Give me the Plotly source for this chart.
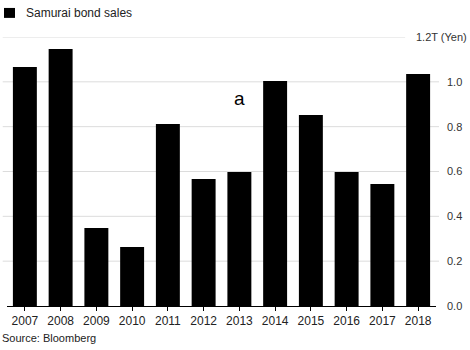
import plotly.graph_objects as go

years = ["2007", "2008", "2009", "2010", "2011", "2012", "2013", "2014", "2015", "2016", "2017", "2018"]
sales = [1.066, 1.146, 0.348, 0.263, 0.812, 0.566, 0.598, 1.004, 0.852, 0.598, 0.544, 1.035]
ytick_vals = [0.0, 0.2, 0.4, 0.6, 0.8, 1.0]
ytick_text = ["0.0", "0.2", "0.4", "0.6", "0.8", "1.0"]

FONT = "Liberation Sans, Arial, sans-serif"

fig = go.Figure()
fig.add_trace(go.Bar(x=years, y=sales, marker=dict(color="#000000", line=dict(width=0)),
                     name="Samurai bond sales", showlegend=False))

shapes = []
for v in ytick_vals[1:]:
    shapes.append(dict(type="line", xref="paper", yref="y", x0=-0.01, x1=1.007, y0=v, y1=v,
                       line=dict(color="#dcdcdc", width=1), layer="below"))
shapes.append(dict(type="line", xref="paper", yref="y", x0=-0.01, x1=0.928, y0=1.2, y1=1.2,
                   line=dict(color="#dcdcdc", width=1), layer="below"))
# legend swatch
shapes.append(dict(type="rect", xref="paper", yref="paper", x0=-0.007, x1=0.0186, y0=1.071, y1=1.108,
                   fillcolor="#000000", line=dict(width=0)))

fig.update_layout(
    width=470, height=350,
    margin=dict(l=7, r=34, t=37, b=44),
    paper_bgcolor="white", plot_bgcolor="white",
    font=dict(family=FONT, size=11, color="#333333"),
    bargap=0.33,
    shapes=shapes,
    xaxis=dict(type="category", showgrid=False, showline=True, linecolor="#000000", linewidth=1,
               ticks="outside", ticklen=4, tickcolor="#000000", tickfont=dict(size=12, color="#222222"),
               range=[-0.5, 11.5]),
    yaxis=dict(side="right", range=[0, 1.2], showgrid=False, zeroline=False, showline=False,
               tickvals=ytick_vals, ticktext=ytick_text, ticks="", ticklabelstandoff=10,
               tickfont=dict(size=11, color="#333333")),
    annotations=[
        dict(text="Samurai bond sales", xref="paper", yref="paper", x=0.0396, y=1.089,
             xanchor="left", yanchor="middle", showarrow=False, font=dict(size=12, color="#222222")),
        dict(text="1.2T (Yen)", xref="paper", yref="y", x=1.0, y=1.2, xanchor="left", yanchor="middle",
             xshift=-22, showarrow=False, font=dict(size=11, color="#333333")),
        dict(text="a", x=6, y=0.925, xref="x", yref="y", showarrow=False,
             font=dict(size=19, color="#000000")),
        dict(text="Source: Bloomberg", xref="paper", yref="paper", x=-0.017, y=-0.09, xanchor="left",
             yanchor="top", showarrow=False, font=dict(size=11, color="#222222")),
    ],
)

fig.write_html("out.html")
